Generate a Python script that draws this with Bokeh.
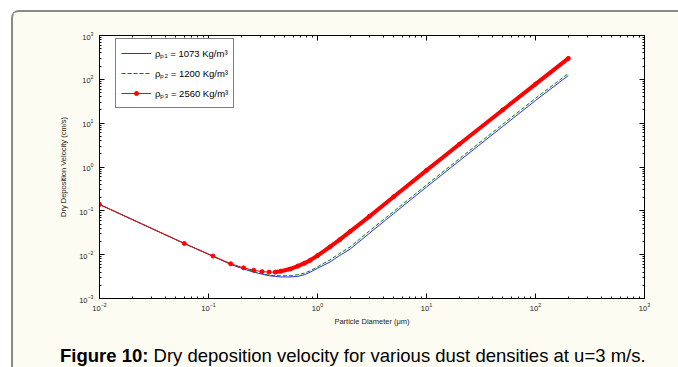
from bokeh.plotting import figure
from bokeh.layouts import column
from bokeh.models import (LogAxis, FixedTicker, Legend, LegendItem, Div,
                          Range1d, CustomJSTickFormatter)
from bokeh.embed import file_html
from bokeh.resources import INLINE

# ---------------- data ----------------
diameter = [0.01, 0.06, 0.11, 0.16, 0.21, 0.26, 0.31, 0.36, 0.41, 0.46, 0.56, 0.66,
            0.76, 0.86, 1.0, 1.3, 1.6, 2.0, 3.0, 5.0, 10, 20, 50, 100, 200]
v_rho1 = [0.14, 0.018, 0.0092, 0.0060, 0.0047, 0.0040, 0.0036, 0.0033, 0.0032, 0.0031,
          0.0031, 0.0032, 0.0035, 0.0040, 0.0049, 0.0068, 0.0096, 0.0135, 0.031, 0.087,
          0.35, 1.38, 8.4, 33, 122]
v_rho2 = [0.14, 0.018, 0.0092, 0.0061, 0.0048, 0.0041, 0.0037, 0.0034, 0.0033, 0.0033,
          0.0033, 0.0035, 0.0038, 0.0043, 0.0053, 0.0076, 0.0107, 0.0151, 0.035, 0.097,
          0.39, 1.54, 9.4, 37, 136]
v_rho3 = [0.14, 0.018, 0.0093, 0.0062, 0.0050, 0.0044, 0.0041, 0.0040, 0.0040, 0.0042,
          0.0047, 0.0055, 0.0064, 0.0075, 0.0095, 0.015, 0.022, 0.034, 0.075, 0.21,
          0.84, 3.3, 20, 78, 300]
series_labels = ["\u03c1\u209a\u2081 = 1073 Kg/m\u00b3",
                 "\u03c1\u209a\u2082 = 1200 Kg/m\u00b3",
                 "\u03c1\u209a\u2083 = 2560 Kg/m\u00b3"]
x_major = [0.01, 0.1, 1, 10, 100, 1000]
y_major = [0.001, 0.01, 0.1, 1, 10, 100, 1000]
x_label = "Particle Diameter (\u03bcm)"
y_label = "Dry Deposition Velocity (cm/s)"
caption_bold = "Figure 10:"
caption_text = "Dry deposition velocity for various dust densities at u=3 m/s."

# dense-marker band of the 2560 series (markers overlap from about 0.4 um on)
band_x = [d for d in diameter if d >= 0.41]
band_y = [v for d, v in zip(diameter, v_rho3) if d >= 0.41]

FONT = "Liberation Sans"
CREAM = "#fdfcf3"
OFF_X, OFF_Y = 13, 12          # page-frame margin + border width
PW = 678 - OFF_X               # width of the inner blocks
MAIN_H, CAP_H = 318, 37

p = figure(width=PW, height=MAIN_H, x_axis_type="log", y_axis_type="log",
           x_range=Range1d(0.01, 1000), y_range=Range1d(0.001, 1000),
           output_backend="svg", toolbar_location=None,
           min_border_left=99 - OFF_X, min_border_right=34,
           min_border_top=35 - OFF_Y, min_border_bottom=MAIN_H - (298 - OFF_Y),
           border_fill_color=CREAM, background_fill_color="white")
p.grid.visible = False
p.outline_line_color = "black"
p.outline_line_width = 1

x_minor = [k * t for t in x_major[:-1] for k in range(2, 10)]
y_minor = [k * t for t in y_major[:-1] for k in range(2, 10)]


def style_axis(ax, major, minor, show_labels):
    ax.ticker = FixedTicker(ticks=major, minor_ticks=minor)
    ax.axis_line_color = "black"
    ax.major_tick_in = 5
    ax.major_tick_out = 0
    ax.minor_tick_in = 2
    ax.minor_tick_out = 0
    ax.major_tick_line_color = "black"
    ax.minor_tick_line_color = "black"
    ax.major_label_text_font = FONT
    ax.major_label_text_font_size = "7.5px"
    ax.major_label_text_color = "#222222"
    ax.axis_label_text_font = FONT
    ax.axis_label_text_font_size = "7.5px"
    ax.axis_label_text_font_style = "normal"
    ax.axis_label_text_color = "#222222"
    if not show_labels:
        ax.formatter = CustomJSTickFormatter(code="return ''")
        ax.major_label_standoff = 0


style_axis(p.xaxis[0], x_major, x_minor, True)
style_axis(p.yaxis[0], y_major, y_minor, True)
p.xaxis[0].axis_label = x_label
p.yaxis[0].axis_label = y_label
p.xaxis[0].major_label_standoff = 4
p.yaxis[0].major_label_standoff = 6
p.xaxis[0].axis_label_standoff = 3
p.yaxis[0].axis_label_standoff = 8

top_ax = LogAxis()
style_axis(top_ax, x_major, x_minor, False)
p.add_layout(top_ax, "above")
right_ax = LogAxis()
style_axis(right_ax, y_major, y_minor, False)
p.add_layout(right_ax, "right")

# series
r1 = p.line(diameter, v_rho1, line_color="#2a2aff", line_width=1)
r2 = p.line(diameter, v_rho2, line_color="#008000", line_width=1, line_dash="4 2")
r3 = p.line(diameter, v_rho3, line_color="#ff0000", line_width=1)
p.line(band_x, band_y, line_color="#ff0000", line_width=4, line_cap="round", line_join="round")
r3m = p.scatter(diameter, v_rho3, marker="circle", size=4, fill_color="#ff0000",
                line_color="#ff0000")

legend = Legend(items=[LegendItem(label=series_labels[0], renderers=[r1]),
                       LegendItem(label=series_labels[1], renderers=[r2]),
                       LegendItem(label=series_labels[2], renderers=[r3, r3m])],
                location=(16, 190), orientation="vertical",
                border_line_color="black", border_line_width=1,
                background_fill_color="white", background_fill_alpha=1,
                label_text_font=FONT, label_text_font_size="9.5px",
                label_text_color="black",
                glyph_width=30, glyph_height=10, label_height=18, spacing=2,
                padding=5, margin=0, label_standoff=4)
p.add_layout(legend, "center")

# caption (real HTML text, bold lead-in)
cap = Div(text=f"<b>{caption_bold}</b> {caption_text}", width=PW, height=CAP_H,
          styles={"font-family": "'Liberation Sans', Arial, sans-serif",
                  "font-size": "18.5px", "line-height": "42px",
                  "text-indent": f"{55 - OFF_X}px", "color": "black",
                  "white-space": "nowrap", "overflow": "hidden",
                  "background-color": CREAM})

page = column(p, cap, spacing=0,
              styles={"margin-left": "11px", "margin-top": "10px",
                      "border-left": "2px solid #8a8a8a",
                      "border-top": "2px solid #8a8a8a",
                      "border-top-left-radius": "8px",
                      "background-color": CREAM})

open("out.html", "w").write(file_html(page, INLINE))
